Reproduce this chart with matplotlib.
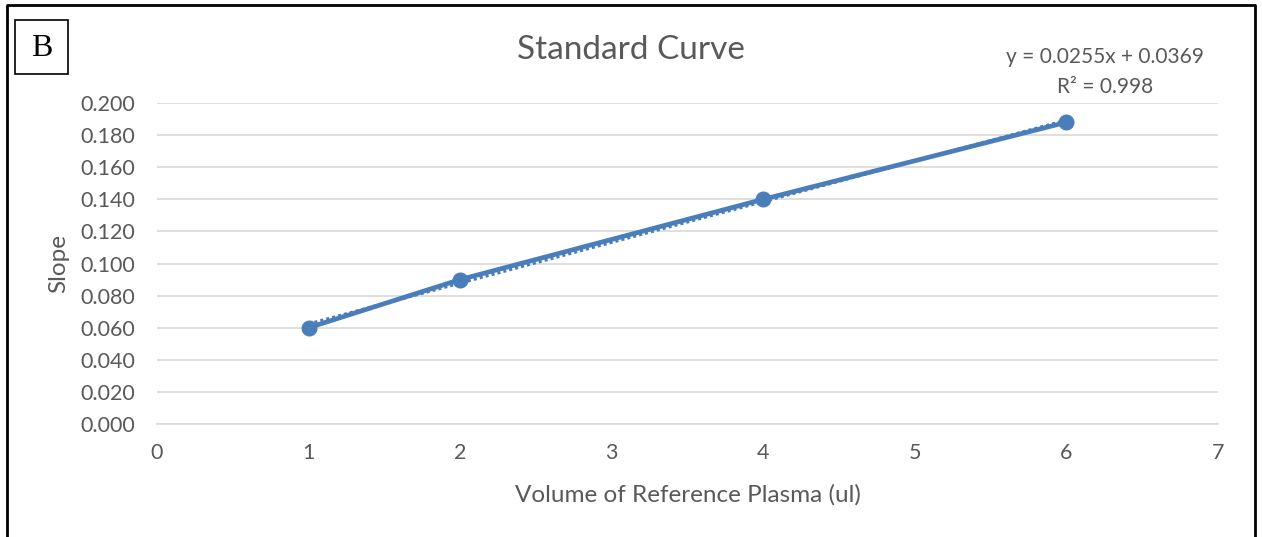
import matplotlib
matplotlib.use("Agg")
import matplotlib.pyplot as plt
from matplotlib.patches import Rectangle
import numpy as np

plt.rcParams['font.family'] = ['Lato', 'DejaVu Sans']

# data
volume = [1, 2, 4, 6]
slope = [0.060, 0.090, 0.140, 0.188]
x_ticks = [0, 1, 2, 3, 4, 5, 6, 7]
y_ticks = [0.000, 0.020, 0.040, 0.060, 0.080, 0.100, 0.120, 0.140, 0.160, 0.180, 0.200]
equation = "y = 0.0255x + 0.0369"
r_squared = "R² = 0.998"

blue = '#4a7ebb'
grey_text = '#595959'
grid_col = '#d9d9d9'

fig = plt.figure(figsize=(12.62, 5.37), dpi=100)
ax = fig.add_axes([0.1244, 0.2104, 0.8407, 0.5978])

# trendline (linear fit)
coef = np.polyfit(volume, slope, 1)
xs = np.array([volume[0], volume[-1]])
ax.plot(xs, np.polyval(coef, xs), color=blue, lw=2.2, ls=(0, (1, 1)), zorder=2)

ax.plot(volume, slope, color=blue, lw=3.4, marker='o', ms=10.5, zorder=3)

ax.set_xlim(0, 7)
ax.set_ylim(0, 0.2)
ax.set_xticks(x_ticks)
ax.set_yticks(y_ticks)
ax.set_yticklabels(['%.3f' % v for v in y_ticks])
ax.yaxis.grid(True, color=grid_col, lw=1.2)
ax.set_axisbelow(True)
for s in ['top', 'right', 'left']:
    ax.spines[s].set_visible(False)
ax.spines['bottom'].set_color(grid_col)
ax.spines['bottom'].set_linewidth(1.2)
ax.tick_params(length=0, colors=grey_text, labelsize=15.5)
ax.tick_params(axis='x', pad=14)
ax.tick_params(axis='y', pad=16)

ax.set_xlabel("Volume of Reference Plasma (ul)", color=grey_text, fontsize=17.5, labelpad=15)
ax.set_ylabel("Slope", color=grey_text, fontsize=17.5, labelpad=8)

fig.text(0.5, 1 - 50 / 537, "Standard Curve", color=grey_text, fontsize=24,
         ha='center', va='center')
fig.text(1105 / 1262, 1 - 57 / 537, equation, color=grey_text, fontsize=15,
         ha='center', va='center')
fig.text(1105 / 1262, 1 - 87 / 537, r_squared, color=grey_text, fontsize=15,
         ha='center', va='center')

# panel label box
fig.patches.append(Rectangle((15 / 1262, 1 - 74 / 537), 53 / 1262, 54 / 537,
                             transform=fig.transFigure, fill=False,
                             edgecolor='black', lw=1.2))
fig.text(41.5 / 1262, 1 - 48 / 537, "B", family='Liberation Serif', fontsize=23,
         ha='center', va='center', color='black')

# outer frame (left, top, right)
fig.add_artist(plt.Line2D([7 / 1262, 7 / 1262, 1255 / 1262, 1255 / 1262],
                          [0, 1 - 5 / 537, 1 - 5 / 537, 0],
                          transform=fig.transFigure, color='black', lw=2))

fig.savefig("out.png", dpi=100)
